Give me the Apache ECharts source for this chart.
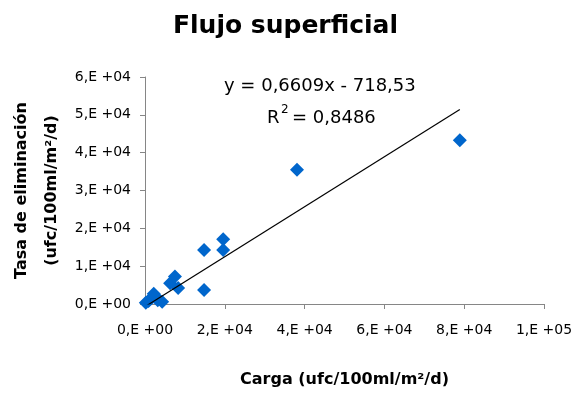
<!DOCTYPE html>
<html>
<head>
<meta charset="utf-8">
<script src="https://cdn.jsdelivr.net/npm/echarts@6/dist/echarts.min.js"></script>
<style>
  html, body { margin: 0; padding: 0; background: #fff; }
  #chart { width: 571px; height: 394px; }
</style>
</head>
<body>
<div id="chart"></div>
<script>
// Surface flow: removal rate against applied load (ufc/100ml/m2/d)
const carga = [200, 900, 1500, 2200, 2700, 3200, 4300, 6300, 7500, 8300, 14800, 14800, 19600, 19600, 38100, 78900];
const tasa  = [300, 800, 1500, 2700, 2000, 1000, 600, 5500, 7300, 4200, 14300, 3700, 17100, 14300, 35500, 43300];

// Linear trend reported on the chart
const slope = 0.6609;
const intercept = -718.53;
const r2 = 0.8486;

const xTicks = [0, 20000, 40000, 60000, 80000, 100000];
const yTicks = [0, 10000, 20000, 30000, 40000, 50000, 60000];

function sciLabel(v) {
  if (v === 0) return '0,E +00';
  const e = Math.floor(Math.log10(v) + 1e-9);
  const m = Math.round(v / Math.pow(10, e));
  return m + ',E +' + String(e).padStart(2, '0');
}

const points = carga.map((x, i) => [x, tasa[i]]);
const xMin = Math.min(...carga), xMax = Math.max(...carga);
const trend = [[xMin, slope * xMin + intercept], [xMax, slope * xMax + intercept]];

const fmt = n => String(n).replace('.', ',');
const font = '"DejaVu Sans", "Liberation Sans", sans-serif';

const chart = echarts.init(document.getElementById('chart'));
chart.setOption({
  animation: false,
  backgroundColor: '#fff',
  title: {
    text: 'Flujo superficial',
    left: 'center',
    top: 9,
    textStyle: { fontFamily: font, fontSize: 25, fontWeight: 'bold', color: '#000' }
  },
  grid: { left: 145, right: 27, top: 77, bottom: 90, containLabel: false, outerBoundsMode: 'none' },
  xAxis: {
    type: 'value',
    min: xTicks[0], max: xTicks[xTicks.length - 1], interval: xTicks[1] - xTicks[0],
    splitLine: { show: false },
    axisLine: { lineStyle: { color: '#868686' } },
    axisTick: { show: true, length: 5, lineStyle: { color: '#868686' } },
    axisLabel: { formatter: sciLabel, margin: 19, color: '#000', fontFamily: font, fontSize: 14 },
    name: 'Carga (ufc/100ml/m²/d)',
    nameLocation: 'middle',
    nameGap: 68,
    nameTextStyle: { fontFamily: font, fontSize: 16, fontWeight: 'bold', color: '#000' }
  },
  yAxis: {
    type: 'value',
    min: yTicks[0], max: yTicks[yTicks.length - 1], interval: yTicks[1] - yTicks[0],
    splitLine: { show: false },
    axisLine: { show: true, lineStyle: { color: '#868686' } },
    axisTick: { show: true, length: 5, lineStyle: { color: '#868686' } },
    axisLabel: { formatter: sciLabel, margin: 14, color: '#000', fontFamily: font, fontSize: 14 },
    name: 'Tasa de eliminación\n(ufc/100ml/m²/d)',
    nameLocation: 'middle',
    nameRotate: 90,
    nameGap: 78,
    nameMoveOverlap: false,
    nameTextStyle: { fontFamily: font, fontSize: 16, fontWeight: 'bold', color: '#000', lineHeight: 30 }
  },
  graphic: [
    {
      type: 'text', left: 224, top: 77,
      style: { text: 'y = 0,6609x - 718,53', font: '18px ' + font, fill: '#000' }
    },
    {
      type: 'text', left: 267, top: 109,
      style: { text: 'R', font: '18px ' + font, fill: '#000' }
    },
    {
      type: 'text', left: 281, top: 104,
      style: { text: '2', font: '12px ' + font, fill: '#000' }
    },
    {
      type: 'text', left: 292, top: 109,
      style: { text: '= ' + fmt(r2), font: '18px ' + font, fill: '#000' }
    }
  ],
  series: [
    {
      type: 'scatter',
      data: points,
      symbol: 'diamond',
      symbolSize: [14, 14],
      itemStyle: { color: '#0066CC', opacity: 1 },
      z: 2
    },
    {
      type: 'line',
      data: trend,
      symbol: 'none',
      lineStyle: { color: '#000', width: 1.2 },
      z: 3
    }
  ]
});
</script>
</body>
</html>
